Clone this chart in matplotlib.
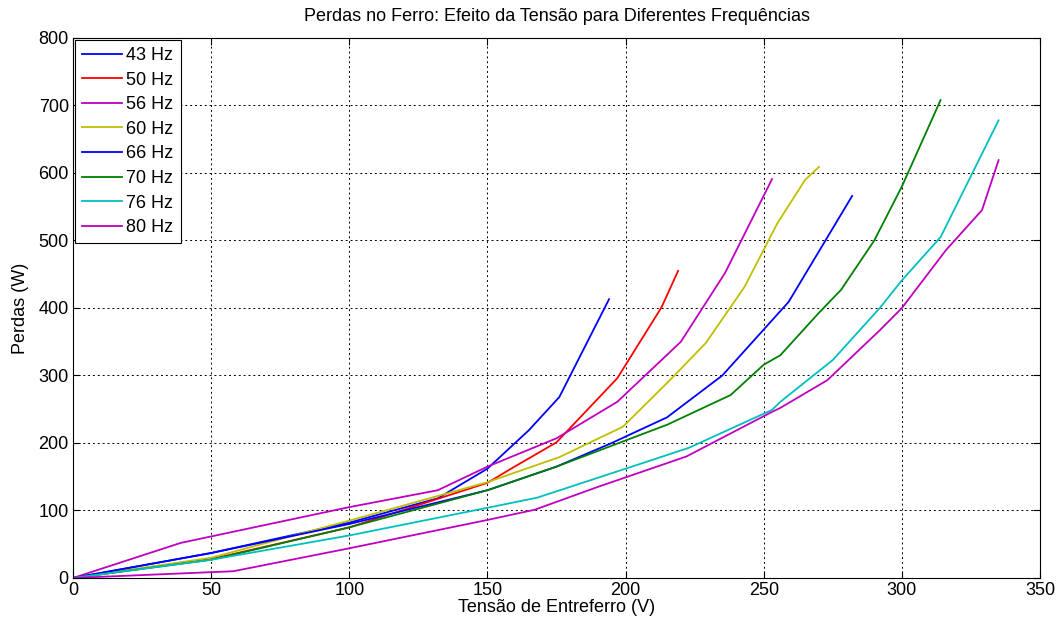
import matplotlib
matplotlib.use("Agg")
from matplotlib import pyplot as plt

plt.rcParams['font.family'] = ['Liberation Sans', 'DejaVu Sans']

# Tensão de entreferro (V) e perdas no ferro (W) para cada frequência
v_43 = [0, 50, 100, 132, 150, 165, 176, 194]
p_43 = [0, 37, 82, 118, 162, 219, 268, 413]

v_50 = [0, 50, 100, 150, 159, 175, 197, 213, 219]
p_50 = [0, 28, 75, 141, 163, 201, 296, 401, 455]

v_56 = [0, 39, 100, 132, 150, 175, 197, 220, 236, 253]
p_56 = [0, 52, 105, 130, 165, 207, 261, 350, 452, 591]

v_60 = [0, 50, 100, 150, 176, 199, 216, 229, 243, 255, 265, 270]
p_60 = [0, 30, 85, 142, 179, 224, 293, 348, 431, 526, 590, 609]

v_66 = [0, 50, 100, 150, 175, 195, 215, 235, 259, 282]
p_66 = [0, 37, 80, 130, 165, 200, 238, 300, 409, 566]

v_70 = [0, 50, 100, 150, 175, 215, 238, 250, 256, 270, 278, 290, 300, 314]
p_70 = [0, 27, 75, 130, 165, 227, 271, 316, 330, 393, 427, 500, 580, 708]

v_76 = [0, 50, 100, 150, 168, 206, 223, 253, 256, 275, 292, 300, 314, 335]
p_76 = [0, 27, 63, 104, 119, 170, 193, 249, 261, 323, 400, 441, 505, 678]

v_80 = [0, 58, 100, 150, 167, 190, 222, 252, 256, 273, 292, 300, 316, 329, 335]
p_80 = [0, 10, 44, 86, 101, 135, 180, 244, 252, 293, 367, 400, 486, 545, 619]

labels = ['43 Hz', '50 Hz', '56 Hz', '60 Hz', '66 Hz', '70 Hz', '76 Hz', '80 Hz']
colors = ['#0000ff', '#ff0000', '#bf00bf', '#bfbf00',
          '#0000ff', '#008000', '#00bfbf', '#bf00bf']

series = [(v_43, p_43), (v_50, p_50), (v_56, p_56), (v_60, p_60),
          (v_66, p_66), (v_70, p_70), (v_76, p_76), (v_80, p_80)]

fig = plt.figure(figsize=(10.63, 6.26), dpi=100)
ax = fig.add_axes([0.0687, 0.0767, 0.9097, 0.8626])

for (v, p), lab, c in zip(series, labels, colors):
    ax.plot(v, p, color=c, linewidth=1.3, label=lab)

ax.set_xlim(0, 350)
ax.set_ylim(0, 800)
ax.set_xticks(range(0, 351, 50))
ax.set_yticks(range(0, 801, 100))
ax.grid(True, color='black', linestyle=(0, (2, 3)), linewidth=0.7)
ax.tick_params(direction='in', labelsize=13, top=True, right=True, length=5, pad=3)
for s in ax.spines.values():
    s.set_linewidth(0.8)

ax.set_xlabel('Tensão de Entreferro (V)', fontsize=13, labelpad=0)
ax.set_ylabel('Perdas (W)', fontsize=13, labelpad=7)
ax.set_title('Perdas no Ferro: Efeito da Tensão para Diferentes Frequências',
             fontsize=13, pad=12)

leg = ax.legend(loc='upper left', fontsize=13, fancybox=False, framealpha=1,
                edgecolor='black', borderaxespad=0.1, handlelength=2.2,
                handletextpad=0.25, labelspacing=0.42, borderpad=0.4)
leg.get_frame().set_linewidth(0.8)

fig.savefig('out.png', dpi=100)
